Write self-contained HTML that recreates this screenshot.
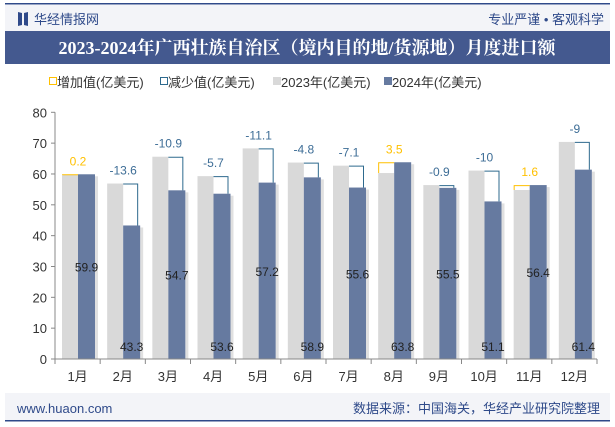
<!DOCTYPE html>
<html><head><meta charset="utf-8"><style>
body{margin:0;width:615px;height:427px;background:#fff;overflow:hidden;font-family:"Liberation Sans","Noto Sans CJK SC",sans-serif}
svg{display:block}
</style></head><body>
<svg width="615" height="427">
<rect x="5" y="3" width="605" height="1.5" fill="#2f4a8a"/>
<rect x="5" y="5" width="605" height="26" fill="#f3f4f8"/>
<path d="M18 12 L22 13 L22 25 L18 26 Z M24 13 L28 12 L28 26 L24 25 Z" fill="#2f4a8a"/>
<text x="34" y="24" font-size="13" fill="#2f4a8a" font-family="Liberation Sans,Noto Sans CJK SC,sans-serif">华经情报网</text>
<text x="604" y="24" font-size="13" fill="#2f4a8a" text-anchor="end" font-family="Liberation Sans,Noto Sans CJK SC,sans-serif">专业严谨 • 客观科学</text>
<rect x="5" y="31" width="605" height="33" fill="#44598f"/>
<text x="307" y="54" font-size="18" font-weight="bold" fill="#fff" text-anchor="middle" font-family="Liberation Serif,Noto Serif CJK SC,serif">2023-2024年广西壮族自治区（境内目的地/货源地）月度进口额</text>
<g font-size="13" fill="#333" font-family="Liberation Sans,Noto Sans CJK SC,sans-serif">
<rect x="49.5" y="77.5" width="7" height="7" fill="none" stroke="#ffc000"/>
<text x="57" y="87">增加值(亿美元)</text>
<rect x="160.5" y="77.5" width="7" height="7" fill="none" stroke="#2e6a8e"/>
<text x="168" y="87">减少值(亿美元)</text>
<rect x="273" y="77" width="8" height="8" fill="#d9d9d9"/>
<text x="281" y="87">2023年(亿美元)</text>
<rect x="384" y="77" width="8" height="8" fill="#667aa0"/>
<text x="392" y="87">2024年(亿美元)</text>
</g>
<g id="plot"></g>
<rect x="5" y="393" width="605" height="27" fill="#f3f4f8"/>
<rect x="5" y="420" width="605" height="1.5" fill="#2f4a8a"/>
<text x="17" y="413" font-size="13" fill="#2f4a8a">www.huaon.com</text>
<text x="600" y="413" font-size="13" fill="#2f4a8a" text-anchor="end" font-family="Liberation Sans,Noto Sans CJK SC,sans-serif">数据来源：中国海关，华经产业研究院整理</text>
</svg>
<script>
const months=["1月","2月","3月","4月","5月","6月","7月","8月","9月","10月","11月","12月"];
const v2023=[59.7,56.9,65.6,59.3,68.3,63.7,62.7,60.3,56.4,61.1,54.8,70.4];
const v2024=[59.9,43.3,54.7,53.6,57.2,58.9,55.6,63.8,55.5,51.1,56.4,61.4];
const changes=["0.2","-13.6","-10.9","-5.7","-11.1","-4.8","-7.1","3.5","-0.9","-10","1.6","-9"];
const yTicks=[0,10,20,30,40,50,60,70,80];
const NS="http://www.w3.org/2000/svg";
const g=document.getElementById("plot");
const X0=55,X1=597,Y0=359,Y80=112.3;
const cw=(X1-X0)/months.length;
const y=v=>Y0-(Y0-Y80)*v/80;
const cx=i=>X0+i*cw;
function mk(t,a,p){const e=document.createElementNS(NS,t);for(const k in a)e.setAttribute(k,a[k]);(p||g).appendChild(e);return e;}
yTicks.forEach(t=>{
 const e=mk("text",{x:47,y:y(t)+5,"font-size":13,fill:"#333","text-anchor":"end"});e.textContent=t;
 
 
 const l=mk("line",{x1:X0-4,x2:X0,y1:y(t),y2:y(t),stroke:"#888"});
 
 
});
const ya=mk("line",{x1:X0,x2:X0,y1:Y80,y2:Y0,stroke:"#888"});


months.forEach((m,i)=>{
 const s=cx(i);
 const a=v2023[i],b=v2024[i],inc=b>=a;
 const sh=mk("rect",{x:s+40,y:y(b)+2,width:3,height:Y0-y(b)-2,fill:"#ccc",opacity:0.6});
 
 
 const r1=mk("rect",{x:s+7,y:y(a),width:16,height:Y0-y(a),fill:"#d9d9d9"});
 
 
 const r2=mk("rect",{x:s+23,y:y(b),width:17,height:Y0-y(b),fill:"#667aa0"});
 
 
 let d,col;
 if(inc){col="#ffc000";d=`M${s+7.5} ${y(a)} V${y(b)+0.5} H${s+23}`;}
 else{col="#2e6a8e";d=`M${s+23} ${y(a)+0.5} H${s+37.5} V${y(b)}`;}
 const p=mk("path",{d:d,fill:"none",stroke:col,"stroke-width":1});
 
 
 const ct=mk("text",{x:s+23,y:Math.min(y(a),y(b))-9,"font-size":12,fill:inc?"#ffc000":"#3d6d96","text-anchor":"middle"});
 ct.textContent=changes[i];
 
 
 const ly=(i%2===0)?(y(b)+Y0)/2+5:351;
 const vt=mk("text",{x:s+31.5,y:ly,"font-size":12,fill:"#222","text-anchor":"middle"});
 vt.textContent=b;
 
 
 const xt=mk("text",{x:s+cw/2,y:381,"font-size":13,fill:"#333","text-anchor":"middle"});
 xt.textContent=m;
 
 
 const tk=mk("line",{x1:s,x2:s,y1:Y0,y2:Y0+5,stroke:"#888"});
 
 
});
const tl=mk("line",{x1:X1,x2:X1,y1:Y0,y2:Y0+5,stroke:"#888"});


const xa=mk("line",{x1:X0,x2:X1,y1:Y0,y2:Y0,stroke:"#888"});


</script>
</body></html>
